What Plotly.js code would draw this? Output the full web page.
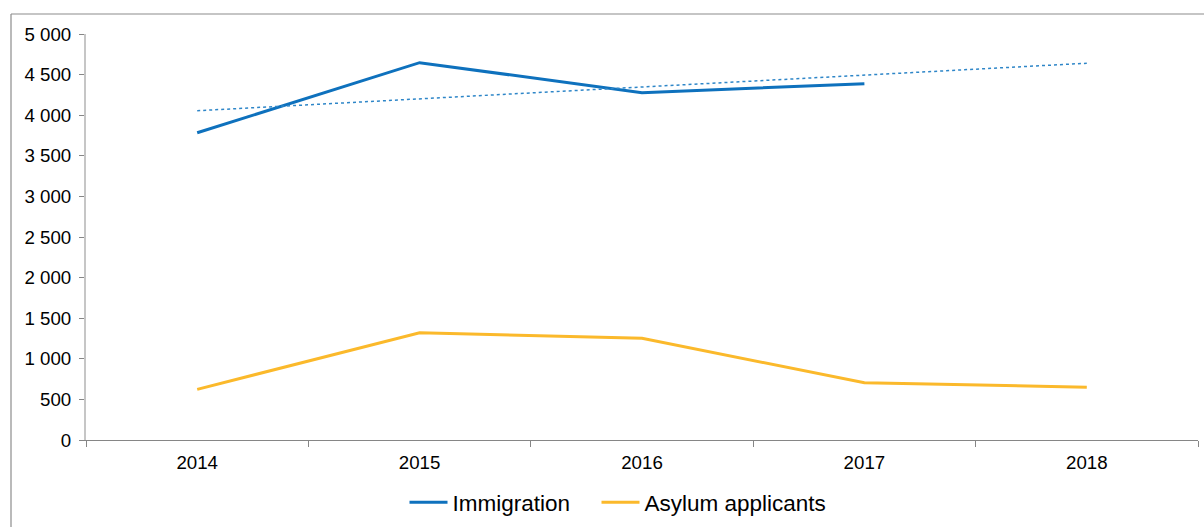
<!DOCTYPE html>
<html>
<head>
<meta charset="utf-8">
<script src="https://cdn.plot.ly/plotly-3.0.1.min.js"></script>
<style>
  html, body { margin: 0; padding: 0; background: #ffffff; }
  #chart { width: 1204px; height: 527px; }
</style>
</head>
<body>
<div id="chart"></div>
<script>
const years = ['2014', '2015', '2016', '2017', '2018'];
const immigration = [3784, 4647, 4277, 4388, null];
const asylumApplicants = [624, 1321, 1252, 706, 649];
// Linear trend of Immigration, endpoints
const trendYears = ['2014', '2018'];
const trendValues = [4055, 4640];

const blue = '#0E71BD';
const yellow = '#FBB92B';

const traces = [
  {
    x: years, y: immigration, name: 'Immigration', type: 'scatter', mode: 'lines',
    line: { color: blue, width: 3 }, connectgaps: false, legendwidth: 139
  },
  {
    x: trendYears, y: trendValues, name: 'Trend', type: 'scatter', mode: 'lines',
    line: { color: '#2E86C8', width: 1.5, dash: 'dot' }, showlegend: false
  },
  {
    x: years, y: asylumApplicants, name: 'Asylum applicants', type: 'scatter', mode: 'lines',
    line: { color: yellow, width: 3 }, legendwidth: 190
  }
];

const L = 86, R = 6, T = 34, B = 87;
const plotW = 1204 - L - R, plotH = 527 - T - B;
const px2x = p => (p - L) / plotW;
const py2y = p => (527 - B - p) / plotH;

const layout = {
  width: 1204, height: 527,
  margin: { l: L, r: R, t: T, b: B, autoexpand: false },
  paper_bgcolor: '#ffffff', plot_bgcolor: '#ffffff',
  separators: ', ',
  font: { family: 'Liberation Sans, Arial, sans-serif', size: 18.7, color: '#000000' },
  showlegend: true,
  legend: {
    orientation: 'h', x: px2x(622), xanchor: 'center', y: py2y(481), yanchor: 'top',
    font: { size: 22.5, color: '#000000' }, traceorder: 'normal',
    itemwidth: 38, bgcolor: 'rgba(0,0,0,0)'
  },
  xaxis: {
    type: 'category', categoryorder: 'array', categoryarray: years,
    range: [-0.5, 4.5],
    showline: true, linecolor: '#868686', linewidth: 1,
    ticks: 'outside', tickson: 'boundaries', ticklen: 6, tickcolor: '#868686', tickwidth: 1,
    showgrid: false, zeroline: false, ticklabelstandoff: 6,
    tickfont: { size: 18.7, color: '#000000' }
  },
  yaxis: {
    range: [0, 5000], dtick: 500, tick0: 0, tickformat: ',',
    showline: true, linecolor: '#C6C6C6', linewidth: 2,
    ticks: 'outside', ticklen: 5, tickcolor: '#868686', tickwidth: 1,
    showgrid: false, zeroline: false, ticklabelstandoff: 4,
    tickfont: { size: 18.7, color: '#000000' }
  },
  shapes: [
    { type: 'line', xref: 'paper', yref: 'paper', x0: px2x(11), x1: px2x(11), y0: py2y(540), y1: py2y(14),
      line: { color: '#8C8C8C', width: 1.2 } },
    { type: 'line', xref: 'paper', yref: 'paper', x0: px2x(11), x1: px2x(1220), y0: py2y(14), y1: py2y(14),
      line: { color: '#8C8C8C', width: 1.2 } }
  ]
};

Plotly.newPlot('chart', traces, layout, { displayModeBar: false, staticPlot: true });
</script>
</body>
</html>
